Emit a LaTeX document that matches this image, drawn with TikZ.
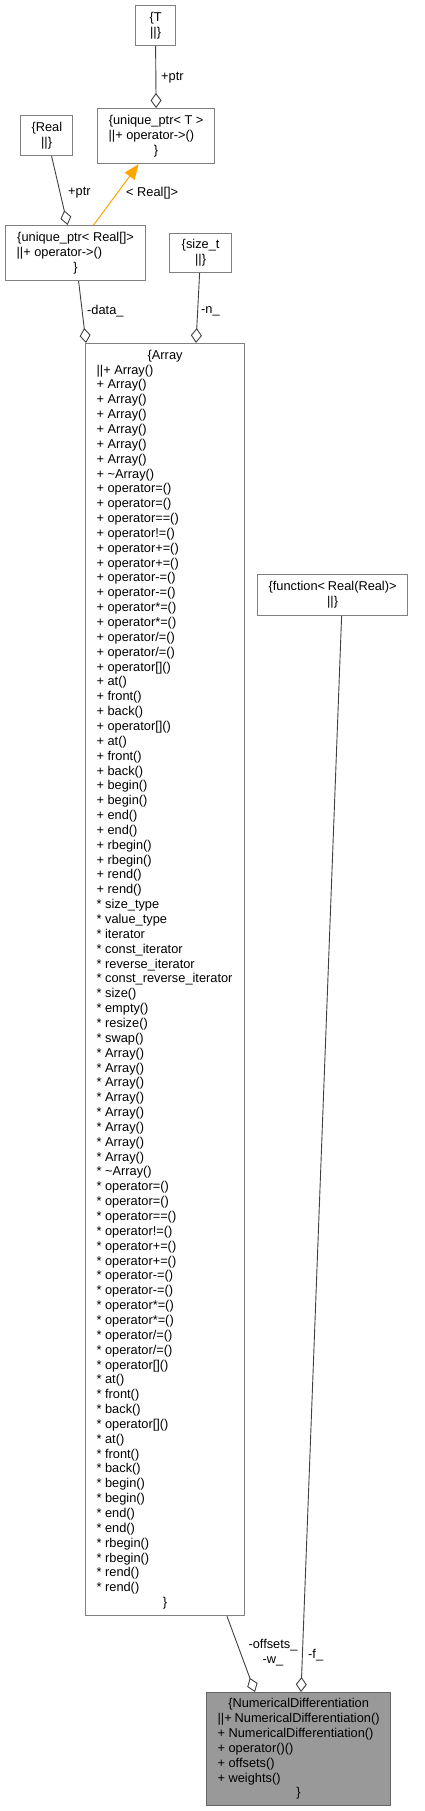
\documentclass[tikz,border=0pt]{standalone}
\usepackage{fontspec}
\setmainfont{Liberation Sans}
\usetikzlibrary{arrows.meta,calc}
\definecolor{boxgray}{HTML}{808080}
\definecolor{edgegray}{HTML}{404040}
\definecolor{ndfill}{HTML}{999999}
\definecolor{ndborder}{HTML}{666666}
\definecolor{inhorange}{HTML}{FFA500}
\newdimen\bxw
\newcommand\Lc[1]{\hbox to\bxw{\hfil#1\hfil}}
\newcommand\Ll[1]{\hbox to\bxw{#1\hfil}}
\newcommand\Pl[1]{\Ll{+ #1}}
\newcommand\Sl[1]{\Ll{* #1}}
\tikzset{
  umlbox/.style={draw=boxgray, line width=1.2pt, fill=white, rectangle, anchor=north west,
    inner xsep=11pt, inner ysep=0pt, font=\fontsize{12.8}{14.85}\selectfont},
  mainbox/.style={umlbox, draw=ndborder, fill=ndfill},
  agg/.style={draw=edgegray, line width=0.9pt, -{Diamond[fill=white, length=15pt, width=11pt, line width=0.9pt]}},
  inh/.style={draw=inhorange, line width=1pt, -{Triangle[length=15pt, width=12pt]}, inhorange},
  elabel/.style={font=\fontsize{12.8}{14.85}\selectfont, inner sep=0pt, text=black},
}
\begin{document}
\begin{tikzpicture}[x=1pt, y=-1pt]
\useasboundingbox (0,0) rectangle (424,1811);

% boxes
\node[umlbox, minimum width=40pt, minimum height=40pt] (T) at (135,5)
  {\bxw=18pt\vbox{\Lc{\{T}\Lc{||\}}}};
\node[umlbox, minimum width=117pt, minimum height=55pt] (uT) at (97,108)
  {\bxw=95pt\vbox{\Lc{\{unique\_ptr< T >}\Ll{||+ operator->()}\Lc{\}}}};
\node[umlbox, minimum width=52pt, minimum height=40pt] (Real) at (20,115)
  {\bxw=30pt\vbox{\Lc{\{Real}\Lc{||\}}}};
\node[umlbox, minimum width=140pt, minimum height=55pt] (uR) at (5,225)
  {\bxw=118pt\vbox{\Lc{\{unique\_ptr< Real[]>}\Ll{||+ operator->()}\Lc{\}}}};
\node[umlbox, minimum width=62pt, minimum height=39pt] (sz) at (169,233)
  {\bxw=40pt\vbox{\Lc{\{size\_t}\Lc{||\}}}};
\node[umlbox, minimum width=150pt, minimum height=41pt] (fn) at (257,574)
  {\bxw=128pt\vbox{\Lc{\{function< Real(Real)>}\Lc{||\}}}};

\node[umlbox, minimum width=159pt, minimum height=1272pt] (arr) at (85,343)
  {\bxw=137pt\vbox{%
  \Lc{\{Array}\Ll{||+ Array()}%
  \Pl{Array()}\Pl{Array()}\Pl{Array()}\Pl{Array()}\Pl{Array()}\Pl{Array()}%
  \Pl{\textasciitilde Array()}%
  \Pl{operator=()}\Pl{operator=()}\Pl{operator==()}\Pl{operator!=()}%
  \Pl{operator+=()}\Pl{operator+=()}\Pl{operator-=()}\Pl{operator-=()}%
  \Pl{operator*=()}\Pl{operator*=()}\Pl{operator/=()}\Pl{operator/=()}%
  \Pl{operator[]()}\Pl{at()}\Pl{front()}\Pl{back()}%
  \Pl{operator[]()}\Pl{at()}\Pl{front()}\Pl{back()}%
  \Pl{begin()}\Pl{begin()}\Pl{end()}\Pl{end()}%
  \Pl{rbegin()}\Pl{rbegin()}\Pl{rend()}\Pl{rend()}%
  \Sl{size\_type}\Sl{value\_type}\Sl{iterator}\Sl{const\_iterator}%
  \Sl{reverse\_iterator}\Sl{const\_reverse\_iterator}%
  \Sl{size()}\Sl{empty()}\Sl{resize()}\Sl{swap()}%
  \Sl{Array()}\Sl{Array()}\Sl{Array()}\Sl{Array()}\Sl{Array()}\Sl{Array()}\Sl{Array()}\Sl{Array()}%
  \Sl{\textasciitilde Array()}%
  \Sl{operator=()}\Sl{operator=()}\Sl{operator==()}\Sl{operator!=()}%
  \Sl{operator+=()}\Sl{operator+=()}\Sl{operator-=()}\Sl{operator-=()}%
  \Sl{operator*=()}\Sl{operator*=()}\Sl{operator/=()}\Sl{operator/=()}%
  \Sl{operator[]()}\Sl{at()}\Sl{front()}\Sl{back()}%
  \Sl{operator[]()}\Sl{at()}\Sl{front()}\Sl{back()}%
  \Sl{begin()}\Sl{begin()}\Sl{end()}\Sl{end()}%
  \Sl{rbegin()}\Sl{rbegin()}\Sl{rend()}\Sl{rend()}%
  \Lc{\}}}};

\node[mainbox, minimum width=184pt, minimum height=113pt] (nd) at (206,1692)
  {\bxw=162pt\vbox{%
  \Lc{\{NumericalDifferentiation}\Ll{||+ NumericalDifferentiation()}%
  \Pl{NumericalDifferentiation()}\Pl{operator()()}\Pl{offsets()}\Pl{weights()}%
  \Lc{\}}}};

% connectors
\draw[agg] (T.south) -- (uT.north);
\draw[agg] ([xshift=5pt]Real.south) -- ([xshift=-8pt]uR.north);
\draw[inh] ([xshift=18pt]uR.north) -- ([xshift=-17.5pt]uT.south);
\draw[agg] ([xshift=3pt]uR.south) -- ([xshift=1pt]arr.north west);
\draw[agg] ([xshift=-1pt]sz.south) -- ([xshift=111pt]arr.north west);
\draw[agg] ([xshift=142pt]arr.south west) -- ([xshift=49pt]nd.north west);
\draw[agg] ([xshift=9pt]fn.south) -- ([xshift=95pt]nd.north west);

% labels
\node[elabel, anchor=west] (l1) at (161,78) {+ptr};
\node[elabel, anchor=west] (l2) at (68,193) {+ptr};
\node[elabel, anchor=west] (l3) at (126,193) {< Real[]>};
\node[elabel, anchor=west] (l4) at (87,311) {-data\_};
\node[elabel, anchor=west] (l5) at (201,311) {-n\_};
\node[elabel, align=center] (l6) at (273,1653) {-offsets\_\\-w\_};
\node[elabel, anchor=west] (l7) at (308,1655) {-f\_};
\end{tikzpicture}
\end{document}
